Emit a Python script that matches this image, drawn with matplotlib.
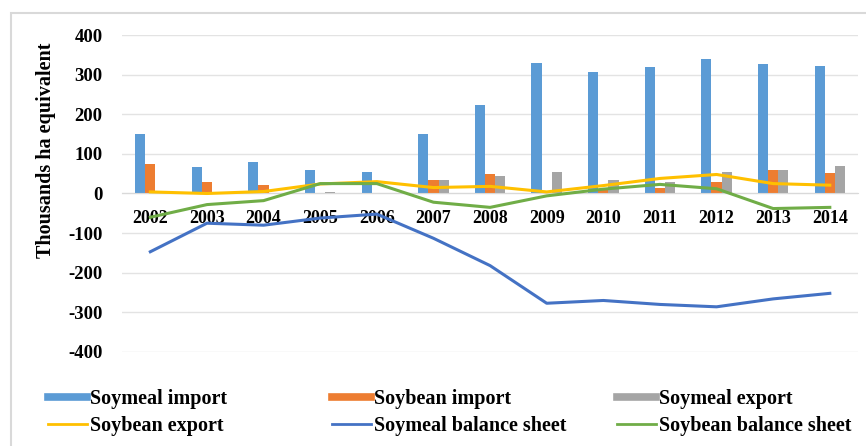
import numpy as np
import matplotlib.pyplot as plt
from matplotlib.lines import Line2D
from matplotlib.patches import Rectangle

plt.rcParams['font.family'] = ['Liberation Serif', 'DejaVu Serif']
plt.rcParams['font.weight'] = 'bold'
plt.rcParams['axes.unicode_minus'] = False

# Data (thousands ha equivalent)
years = ['2002', '2003', '2004', '2005', '2006', '2007', '2008',
         '2009', '2010', '2011', '2012', '2013', '2014']
soymeal_import = [150, 68, 80, 60, 55, 151, 223, 329, 307, 319, 339, 327, 323]
soybean_import = [74, 28, 21, 0, 0, 33, 49, 0, 10, 15, 28, 60, 51]
soymeal_export = [0, 0, 0, 5, 2, 33, 43, 53, 35, 28, 53, 60, 70]
soybean_export = [4, 0, 5, 24, 30, 15, 18, 4, 20, 38, 48, 25, 21]
soymeal_balance = [-147, -75, -80, -62, -52, -113, -182, -277, -270, -280, -286, -266, -252]
soybean_balance = [-60, -28, -18, 25, 25, -22, -35, -6, 11, 23, 12, -38, -35]

c_mimp = '#5B9BD5'
c_bimp = '#ED7D31'
c_mexp = '#A5A5A5'
c_bexp = '#FFC000'
c_mbal = '#4472C4'
c_bbal = '#70AD47'

fig = plt.figure(figsize=(8.66, 4.46), dpi=100)
ax = fig.add_axes([0.1409, 0.2108, 0.85, 0.7107])

x = np.arange(len(years))
w = 0.18
ax.bar(x - w, soymeal_import, w, color=c_mimp, zorder=2)
ax.bar(x, soybean_import, w, color=c_bimp, zorder=2)
ax.bar(x + w, soymeal_export, w, color=c_mexp, zorder=2)

ax.plot(x, soybean_export, color=c_bexp, lw=2.2, zorder=3)
ax.plot(x, soymeal_balance, color=c_mbal, lw=2.2, zorder=3)
ax.plot(x, soybean_balance, color=c_bbal, lw=2.2, zorder=3)

ax.set_xlim(-0.5, len(years) - 0.5)
ax.set_ylim(-400, 400)
ax.set_yticks(np.arange(-400, 401, 100))
ax.yaxis.grid(True, color='#E3E3E3', lw=1)
ax.set_axisbelow(True)

# category axis sits on the zero line
ax.spines['bottom'].set_position(('data', 0))
ax.spines['bottom'].set_color('#D9D9D9')
for s in ['top', 'right', 'left']:
    ax.spines[s].set_visible(False)
ax.set_xticks(x)
ax.set_xticklabels(years)
ax.tick_params(axis='x', length=0, pad=12, labelsize=13)
ax.tick_params(axis='y', length=0, pad=14, labelsize=13.5)
for lab in ax.get_xticklabels() + ax.get_yticklabels():
    lab.set_fontweight('bold')

fig.text(46 / 866, 1 - 150 / 446, 'Thousands ha equivalent', rotation=90,
         ha='center', va='center', fontsize=14.5, fontweight='bold')

# outer chart frame
fig.add_artist(Rectangle((11 / 866, -0.1), 2, 1 - 13 / 446 + 0.1,
                         transform=fig.transFigure, fill=False,
                         ec='#D9D9D9', lw=1.5))

# legend in three columns, two rows
cols = [
    ([Line2D([], [], color=c_mimp, lw=5.5), Line2D([], [], color=c_bexp, lw=2)],
     ['Soymeal import', 'Soybean export'], 48),
    ([Line2D([], [], color=c_bimp, lw=5.5), Line2D([], [], color=c_mbal, lw=2)],
     ['Soybean import', 'Soymeal balance sheet'], 332),
    ([Line2D([], [], color=c_mexp, lw=5.5), Line2D([], [], color=c_bbal, lw=2)],
     ['Soymeal export', 'Soybean balance sheet'], 617),
]
for handles, labels, xpos in cols:
    fig.legend(handles, labels, loc='upper left',
               bbox_to_anchor=(xpos / 866, 1 - 389 / 446),
               frameon=False, handlelength=1.95,
               handletextpad=0.15, labelspacing=0.35, borderpad=0,
               borderaxespad=0, prop={'weight': 'bold', 'size': 14.5})

fig.savefig('out.png', dpi=100)
